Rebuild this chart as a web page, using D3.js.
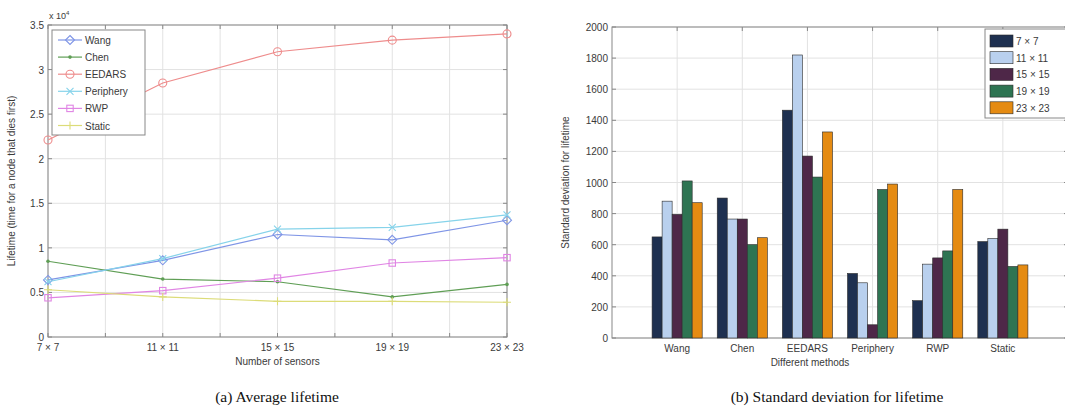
<!DOCTYPE html>
<html><head><meta charset="utf-8">
<script src="https://cdn.jsdelivr.net/npm/d3@7"></script>
<style>
body{margin:0;background:#fff;}
svg text{font-family:"Liberation Sans",Arial,sans-serif;}
svg text.cap{font-family:"Liberation Serif","Times New Roman",serif;}
</style></head>
<body><svg id="c" width="1065" height="413"></svg>
<script>
// ---- Data: left chart (Average lifetime, x 10^4) ----
const sizes = [7, 11, 15, 19, 23];
const sizeLabels = ["7 × 7", "11 × 11", "15 × 15", "19 × 19", "23 × 23"];
const wang      = [0.64, 0.86, 1.15, 1.09, 1.31];
const chen      = [0.85, 0.65, 0.62, 0.45, 0.59];
const eedars    = [2.21, 2.85, 3.20, 3.33, 3.40];
const periphery = [0.62, 0.88, 1.21, 1.23, 1.37];
const rwp       = [0.44, 0.52, 0.66, 0.83, 0.89];
const staticL   = [0.53, 0.45, 0.40, 0.40, 0.39];
const lineNames = ["Wang", "Chen", "EEDARS", "Periphery", "RWP", "Static"];
const yTicksL = [0, 0.5, 1, 1.5, 2, 2.5, 3, 3.5];

// ---- Data: right chart (Standard deviation) ----
const methods = ["Wang", "Chen", "EEDARS", "Periphery", "RWP", "Static"];
const sd7  = [650, 900, 1465, 415, 240, 620];
const sd11 = [880, 765, 1820, 355, 475, 640];
const sd15 = [795, 765, 1170, 85, 515, 700];
const sd19 = [1010, 600, 1035, 955, 560, 460];
const sd23 = [870, 645, 1325, 990, 955, 470];
const yTicksR = [0, 200, 400, 600, 800, 1000, 1200, 1400, 1600, 1800, 2000];

const svg = d3.select("#c");
const txt = "#3a3a3a";

// ================= LEFT CHART =================
const L = {x0: 48, x1: 507, y0: 337, y1: 25};
const xL = d3.scaleLinear().domain([7, 23]).range([L.x0, L.x1]);
const yL = d3.scaleLinear().domain([0, 3.5]).range([L.y0, L.y1]);
const gL = svg.append("g");
const xGridTicks = d3.range(7, 24, 2);
gL.selectAll(".vg").data(xGridTicks).join("line")
  .attr("x1", d => xL(d)).attr("x2", d => xL(d)).attr("y1", L.y1).attr("y2", L.y0)
  .attr("stroke", "#e2e2e2").attr("stroke-width", 1);
gL.selectAll(".hg").data(yTicksL).join("line")
  .attr("x1", L.x0).attr("x2", L.x1).attr("y1", d => yL(d)).attr("y2", d => yL(d))
  .attr("stroke", "#e2e2e2").attr("stroke-width", 1);
gL.append("rect").attr("x", L.x0).attr("y", L.y1).attr("width", L.x1 - L.x0).attr("height", L.y0 - L.y1)
  .attr("fill", "none").attr("stroke", "#888");
const tickLen = 4;
xGridTicks.forEach(t => {
  gL.append("line").attr("x1", xL(t)).attr("x2", xL(t)).attr("y1", L.y0).attr("y2", L.y0 - tickLen).attr("stroke", "#888");
  gL.append("line").attr("x1", xL(t)).attr("x2", xL(t)).attr("y1", L.y1).attr("y2", L.y1 + tickLen).attr("stroke", "#888");
});
yTicksL.forEach(t => {
  gL.append("line").attr("x1", L.x0).attr("x2", L.x0 + tickLen).attr("y1", yL(t)).attr("y2", yL(t)).attr("stroke", "#888");
  gL.append("line").attr("x1", L.x1).attr("x2", L.x1 - tickLen).attr("y1", yL(t)).attr("y2", yL(t)).attr("stroke", "#888");
});
gL.selectAll(".yl").data(yTicksL).join("text")
  .attr("x", L.x0 - 4).attr("y", d => yL(d) + 4).attr("text-anchor", "end")
  .attr("font-size", 10).attr("fill", txt).text(d => d);
gL.selectAll(".xl").data(sizes).join("text")
  .attr("x", d => xL(d)).attr("y", L.y0 + 14).attr("text-anchor", "middle")
  .attr("font-size", 10).attr("fill", txt).text((d, i) => sizeLabels[i]);
const ex = gL.append("text").attr("x", L.x0 + 1).attr("y", L.y1 - 6).attr("font-size", 9).attr("fill", txt);
ex.append("tspan").text("x 10");
ex.append("tspan").attr("dy", -4).attr("font-size", 6).text("4");
gL.append("text").attr("x", (L.x0 + L.x1) / 2).attr("y", 365).attr("text-anchor", "middle")
  .attr("font-size", 10).attr("fill", txt).text("Number of sensors");
gL.append("text").attr("transform", `translate(15,${(L.y0 + L.y1) / 2}) rotate(-90)`).attr("text-anchor", "middle")
  .attr("font-size", 10).attr("fill", txt).text("Lifetime (time for a node that dies first)");

const lineSeries = [wang, chen, eedars, periphery, rwp, staticL];
const lineColors = ["#7f95e6", "#5f9e55", "#ee8c8c", "#86d3ea", "#e085e4", "#dcdc78"];
const markers = ["diamond", "dot", "circle", "x", "square", "plus"];
function drawMarker(g, type, x, y, color) {
  if (type === "diamond") g.append("path").attr("d", `M${x},${y-4.5}L${x+4.5},${y}L${x},${y+4.5}L${x-4.5},${y}Z`).attr("fill", "none").attr("stroke", color).attr("stroke-width", 1.1);
  else if (type === "dot") g.append("circle").attr("cx", x).attr("cy", y).attr("r", 1.8).attr("fill", color);
  else if (type === "circle") g.append("circle").attr("cx", x).attr("cy", y).attr("r", 4).attr("fill", "none").attr("stroke", color).attr("stroke-width", 1.1);
  else if (type === "x") g.append("path").attr("d", `M${x-3.5},${y-3.5}L${x+3.5},${y+3.5}M${x-3.5},${y+3.5}L${x+3.5},${y-3.5}`).attr("stroke", color).attr("stroke-width", 1.1);
  else if (type === "square") g.append("rect").attr("x", x - 3.2).attr("y", y - 3.2).attr("width", 6.4).attr("height", 6.4).attr("fill", "none").attr("stroke", color).attr("stroke-width", 1.1);
  else if (type === "plus") g.append("path").attr("d", `M${x-4},${y}L${x+4},${y}M${x},${y-4}L${x},${y+4}`).attr("stroke", color).attr("stroke-width", 1.1);
}
const lineGen = d3.line().x((d, i) => xL(sizes[i])).y(d => yL(d));
lineSeries.forEach((s, k) => {
  gL.append("path").attr("d", lineGen(s)).attr("fill", "none").attr("stroke", lineColors[k]).attr("stroke-width", 1.2);
  s.forEach((v, i) => drawMarker(gL, markers[k], xL(sizes[i]), yL(v), lineColors[k]));
});
const lg = gL.append("g");
lg.append("rect").attr("x", 52).attr("y", 30).attr("width", 93).attr("height", 105)
  .attr("fill", "#fff").attr("stroke", "#888");
lineNames.forEach((n, k) => {
  const yy = 40 + k * 17.1;
  lg.append("line").attr("x1", 58).attr("x2", 82).attr("y1", yy).attr("y2", yy).attr("stroke", lineColors[k]).attr("stroke-width", 1.2);
  drawMarker(lg, markers[k], 70, yy, lineColors[k]);
  lg.append("text").attr("x", 85).attr("y", yy + 4).attr("font-size", 10).attr("fill", txt).text(n);
});

// ================= RIGHT CHART =================
const R = {x0: 612, x1: 1068, y0: 338, y1: 27};
const xR = d3.scaleLinear().domain([0, 7]).range([R.x0, R.x1]);
const yR = d3.scaleLinear().domain([0, 2000]).range([R.y0, R.y1]);
const gR = svg.append("g");
const catIdx = methods.map((m, i) => i + 1);
gR.selectAll(".vg").data(catIdx).join("line")
  .attr("x1", d => xR(d)).attr("x2", d => xR(d)).attr("y1", R.y1).attr("y2", R.y0)
  .attr("stroke", "#e2e2e2");
gR.selectAll(".hg").data(yTicksR).join("line")
  .attr("x1", R.x0).attr("x2", R.x1).attr("y1", d => yR(d)).attr("y2", d => yR(d))
  .attr("stroke", "#e2e2e2");
gR.append("rect").attr("x", R.x0).attr("y", R.y1).attr("width", R.x1 - R.x0).attr("height", R.y0 - R.y1)
  .attr("fill", "none").attr("stroke", "#888");
catIdx.forEach(t => {
  gR.append("line").attr("x1", xR(t)).attr("x2", xR(t)).attr("y1", R.y0).attr("y2", R.y0 - tickLen).attr("stroke", "#888");
  gR.append("line").attr("x1", xR(t)).attr("x2", xR(t)).attr("y1", R.y1).attr("y2", R.y1 + tickLen).attr("stroke", "#888");
});
yTicksR.forEach(t => {
  gR.append("line").attr("x1", R.x0).attr("x2", R.x0 + tickLen).attr("y1", yR(t)).attr("y2", yR(t)).attr("stroke", "#888");
  gR.append("line").attr("x1", R.x1).attr("x2", R.x1 - tickLen).attr("y1", yR(t)).attr("y2", yR(t)).attr("stroke", "#888");
});
const barSeries = [sd7, sd11, sd15, sd19, sd23];
const barColors = ["#1e3050", "#b9d0ee", "#4e2748", "#2e7452", "#e58b12"];
const groupW = xR(5 / 6.5) - xR(0);
const inner = d3.scaleBand().domain(d3.range(5)).range([-groupW / 2, groupW / 2]).padding(0);
barSeries.forEach((s, k) => {
  gR.selectAll(".b" + k).data(s).join("rect")
    .attr("x", (d, i) => xR(i + 1) + inner(k))
    .attr("width", inner.bandwidth())
    .attr("y", d => yR(d)).attr("height", d => R.y0 - yR(d))
    .attr("fill", barColors[k]).attr("stroke", "#2a2a2a").attr("stroke-width", 0.6);
});
gR.selectAll(".yl").data(yTicksR).join("text")
  .attr("x", R.x0 - 4).attr("y", d => yR(d) + 4).attr("text-anchor", "end")
  .attr("font-size", 10).attr("fill", txt).text(d => d);
gR.selectAll(".xl").data(methods).join("text")
  .attr("x", (d, i) => xR(i + 1)).attr("y", R.y0 + 14).attr("text-anchor", "middle")
  .attr("font-size", 10).attr("fill", txt).text(d => d);
gR.append("text").attr("x", xR(3.5) - 30).attr("y", 366).attr("text-anchor", "middle")
  .attr("font-size", 10).attr("fill", txt).text("Different methods");
gR.append("text").attr("transform", `translate(569,${(R.y0 + R.y1) / 2}) rotate(-90)`).attr("text-anchor", "middle")
  .attr("font-size", 10).attr("fill", txt).text("Standard deviation for lifetime");
const lr = gR.append("g");
lr.append("rect").attr("x", 985).attr("y", 29).attr("width", 82).attr("height", 89)
  .attr("fill", "#fff").attr("stroke", "#888");
sizeLabels.forEach((n, k) => {
  const yy = 41 + k * 16.7;
  lr.append("rect").attr("x", 990).attr("y", yy - 6).attr("width", 23).attr("height", 12)
    .attr("fill", barColors[k]).attr("stroke", "#2a2a2a").attr("stroke-width", 0.6);
  lr.append("text").attr("x", 1016).attr("y", yy + 4).attr("font-size", 10).attr("fill", txt).text(n);
});

// ================= CAPTIONS =================
svg.append("text").attr("class", "cap").attr("x", 277).attr("y", 402).attr("text-anchor", "middle")
  .attr("font-size", 15.5).attr("fill", "#111")
  .text("(a) Average lifetime");
svg.append("text").attr("class", "cap").attr("x", 837).attr("y", 402).attr("text-anchor", "middle")
  .attr("font-size", 15.5).attr("fill", "#111")
  .text("(b) Standard deviation for lifetime");
</script></body></html>
